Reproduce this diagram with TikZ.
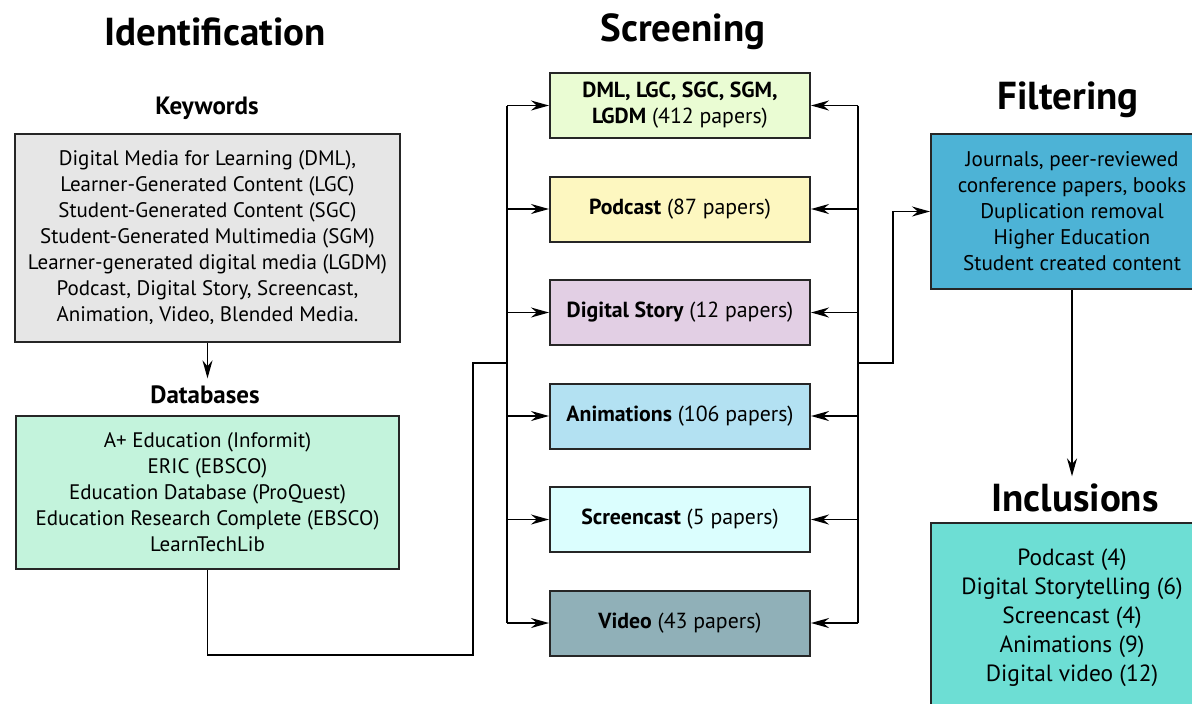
\documentclass[tikz,border=0pt]{standalone}
\usepackage{fontspec}
\setmainfont{PT Sans}
\usetikzlibrary{arrows.meta,positioning}
\definecolor{kwgray}{HTML}{E6E6E6}
\definecolor{dbgreen}{HTML}{C3F3DC}
\definecolor{dmlgreen}{HTML}{EAFCD3}
\definecolor{podyellow}{HTML}{FDF7C0}
\definecolor{storypink}{HTML}{E2CFE4}
\definecolor{animblue}{HTML}{B3E1F2}
\definecolor{screencyan}{HTML}{DBFEFE}
\definecolor{videogray}{HTML}{90B0B8}
\definecolor{filtblue}{HTML}{4DB3D6}
\definecolor{incteal}{HTML}{6DDED4}

\begin{document}
\begin{tikzpicture}[x=0.5pt,y=-0.5pt,>={Stealth[length=9pt,width=5pt]},line width=0.9pt]
\tikzstyle{ttl}=[font=\fontsize{19.5}{22}\selectfont\bfseries]
\tikzstyle{sub}=[font=\fontsize{12.5}{14}\selectfont\bfseries]
\tikzstyle{bx}=[rectangle,draw=black!85,line width=1pt,align=center,font=\fontsize{10.5}{13}\selectfont]
\tikzstyle{scr}=[bx,minimum width=130pt,minimum height=32.5pt,font=\fontsize{10.9}{13}\selectfont]
\tikzstyle{rbx}=[bx,minimum width=141pt,font=\fontsize{10.6}{13}\selectfont]
\useasboundingbox (0,0) rectangle (1192,703);
% titles
\node (tident) [ttl] at (215,32) {Identification};
\node (tscreen) [ttl] at (683,32) {Screening};
\node (tfilt) [ttl] at (1068,100) {Filtering};
\node (tinc) [ttl] at (1075,498) {Inclusions};
\node (tkw) [sub] at (207,108) {Keywords};
\node (tdb) [sub] at (205,395) {Databases};
% identification
\node (kw) [bx,fill=kwgray,minimum width=192.5pt,minimum height=104pt] at (207.5,238)
  {Digital Media for Learning (DML),\\Learner-Generated Content (LGC)\\Student-Generated Content (SGC)\\Student-Generated Multimedia (SGM)\\Learner-generated digital media (LGDM)\\Podcast, Digital Story, Screencast,\\Animation, Video, Blended Media.};
\node (db) [bx,fill=dbgreen,minimum width=191.5pt,minimum height=76.5pt] at (207.5,492.5)
  {A+ Education (Informit)\\ERIC (EBSCO)\\Education Database (ProQuest)\\Education Research Complete (EBSCO)\\LearnTechLib};
% screening
\node (s1) [scr,fill=dmlgreen] at (680,105.5) {\textbf{DML, LGC, SGC, SGM,}\\\textbf{LGDM} (412 papers)};
\node (s2) [scr,fill=podyellow,below=18.25pt of s1] {\textbf{Podcast} (87 papers)};
\node (s3) [scr,fill=storypink,below=18.25pt of s2] {\textbf{Digital Story} (12 papers)};
\node (s4) [scr,fill=animblue,below=18.25pt of s3] {\textbf{Animations} (106 papers)};
\node (s5) [scr,fill=screencyan,below=18.25pt of s4] {\textbf{Screencast} (5 papers)};
\node (s6) [scr,fill=videogray,below=18.25pt of s5] {\textbf{Video} (43 papers)};
% filtering, inclusions
\node (filt) [rbx,fill=filtblue,minimum height=77.5pt] at (1072,211.5)
  {Journals, peer-reviewed\\conference papers, books\\Duplication removal\\Higher Education\\Student created content};
\node (inc) [rbx,fill=incteal,minimum height=95pt,font=\fontsize{11.7}{14.5}\selectfont] at (1072,618)
  {Podcast (4)\\Digital Storytelling (6)\\Screencast (4)\\Animations (9)\\Digital video (12)};
% connectors
\coordinate (dbcorner) at (473,655);
\coordinate (ljoin) at (507,363);
\coordinate (rjoin) at (858,363);
\coordinate (fcorner) at (893,363);
\draw[->] (kw.south) -- (kw.south |- tdb.north);
\draw (db.south) |- (dbcorner) |- (ljoin);
\draw (ljoin |- s1.west) -- (ljoin |- s6.west);
\draw (rjoin |- s1.east) -- (rjoin |- s6.east);
\foreach \i in {1,...,6} {
  \draw[->] (ljoin |- s\i.west) -- (s\i.west);
  \draw[->] (rjoin |- s\i.east) -- (s\i.east);
}
\draw[->] (rjoin) -- (fcorner) |- (filt.west);
\draw[->] (filt.south) -- (tinc.north -| filt.south);
\end{tikzpicture}
\end{document}
